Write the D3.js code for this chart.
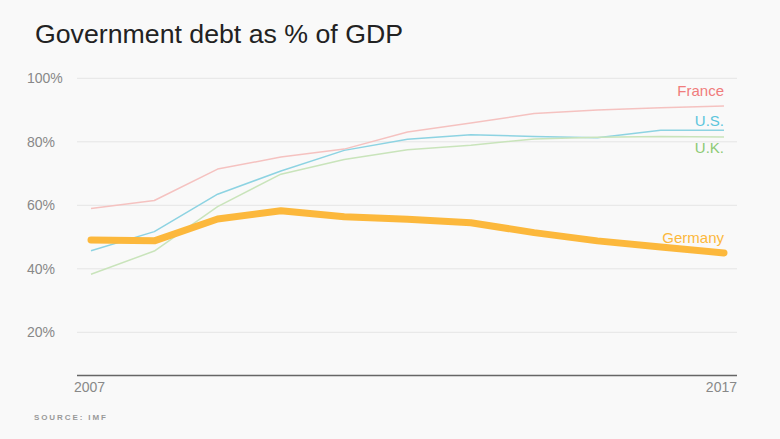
<!DOCTYPE html>
<html><head><meta charset="utf-8">
<script src="https://cdn.jsdelivr.net/npm/d3@7"></script>
<style>
html,body{margin:0;padding:0;background:#f9f9f9;}
svg{display:block;}
text{font-family:"Liberation Sans",Arial,sans-serif;}
</style></head>
<body><svg id="chart" width="780" height="439"></svg>
<script>
const years = [2007,2008,2009,2010,2011,2012,2013,2014,2015,2016,2017];
const france  = [59.0,61.5,71.4,75.2,77.7,83.1,85.9,88.9,90.0,90.7,91.3];
const us      = [45.7,51.7,63.5,70.8,77.3,80.8,82.2,81.7,81.3,83.6,83.6];
const uk      = [38.3,45.6,59.6,69.8,74.4,77.5,78.9,80.9,81.4,81.7,81.5];
const germany = [49.1,48.8,55.7,58.3,56.4,55.6,54.5,51.4,48.8,46.9,45.0];
const yTicks = [20,40,60,80,100];
const xTickLabels = ["2007","2017"];
const seriesNames = ["France","U.S.","U.K.","Germany"];

const svg = d3.select("#chart");
const x = d3.scaleLinear().domain([2007,2017]).range([91,724]);
const y = d3.scaleLinear().domain([0,100]).range([395.8,78.3]);

svg.append("text").attr("x",35).attr("y",43).attr("font-size",25.5)
  .attr("textLength",368).attr("lengthAdjust","spacingAndGlyphs")
  .attr("fill","#222").text("Government debt as % of GDP");

// gridlines
svg.append("g").selectAll("line").data(yTicks).join("line")
  .attr("x1",77).attr("x2",737)
  .attr("y1",d=>y(d)).attr("y2",d=>y(d))
  .attr("stroke","#e5e5e5").attr("stroke-width",1);
svg.append("g").selectAll("text").data(yTicks).join("text")
  .attr("x",27).attr("y",d=>y(d)+5).attr("font-size",14).attr("fill","#888")
  .text(d=>d+"%");

// axis
const axisY = 375.6;
svg.append("line").attr("x1",77).attr("x2",737).attr("y1",axisY).attr("y2",axisY)
  .attr("stroke","#666").attr("stroke-width",1.5);
svg.append("text").attr("x",74).attr("y",392).attr("font-size",14).attr("fill","#888").text(xTickLabels[0]);
svg.append("text").attr("x",737).attr("y",392).attr("text-anchor","end").attr("font-size",14).attr("fill","#888").text(xTickLabels[1]);

const series = [
  {name:seriesNames[0], vals:france,  line:"#f5c2c0", label:"#f07c7c", w:1.5, ly:96},
  {name:seriesNames[1], vals:us,      line:"#8dd3e2", label:"#5cc5dc", w:1.5, ly:126},
  {name:seriesNames[2], vals:uk,      line:"#c9e4bb", label:"#8dca75", w:1.5, ly:153},
  {name:seriesNames[3], vals:germany, line:"#fcb83c", label:"#fcb83c", w:7, ly:243}
];
const line = d3.line().x((d,i)=>x(years[i])).y(d=>y(d));
series.forEach(s=>{
  svg.append("path").attr("d",line(s.vals)).attr("fill","none")
    .attr("stroke",s.line).attr("stroke-width",s.w)
    .attr("stroke-linejoin","round").attr("stroke-linecap",s.w>2?"round":"butt");
});
series.forEach(s=>{
  svg.append("text").attr("x",724).attr("y",s.ly).attr("text-anchor","end")
    .attr("font-size",15).attr("fill",s.label).text(s.name);
});

svg.append("text").attr("x",34).attr("y",420).attr("font-size",8).attr("font-weight","bold")
  .attr("letter-spacing","1.9px").attr("fill","#999").text("SOURCE: IMF");
</script></body></html>
